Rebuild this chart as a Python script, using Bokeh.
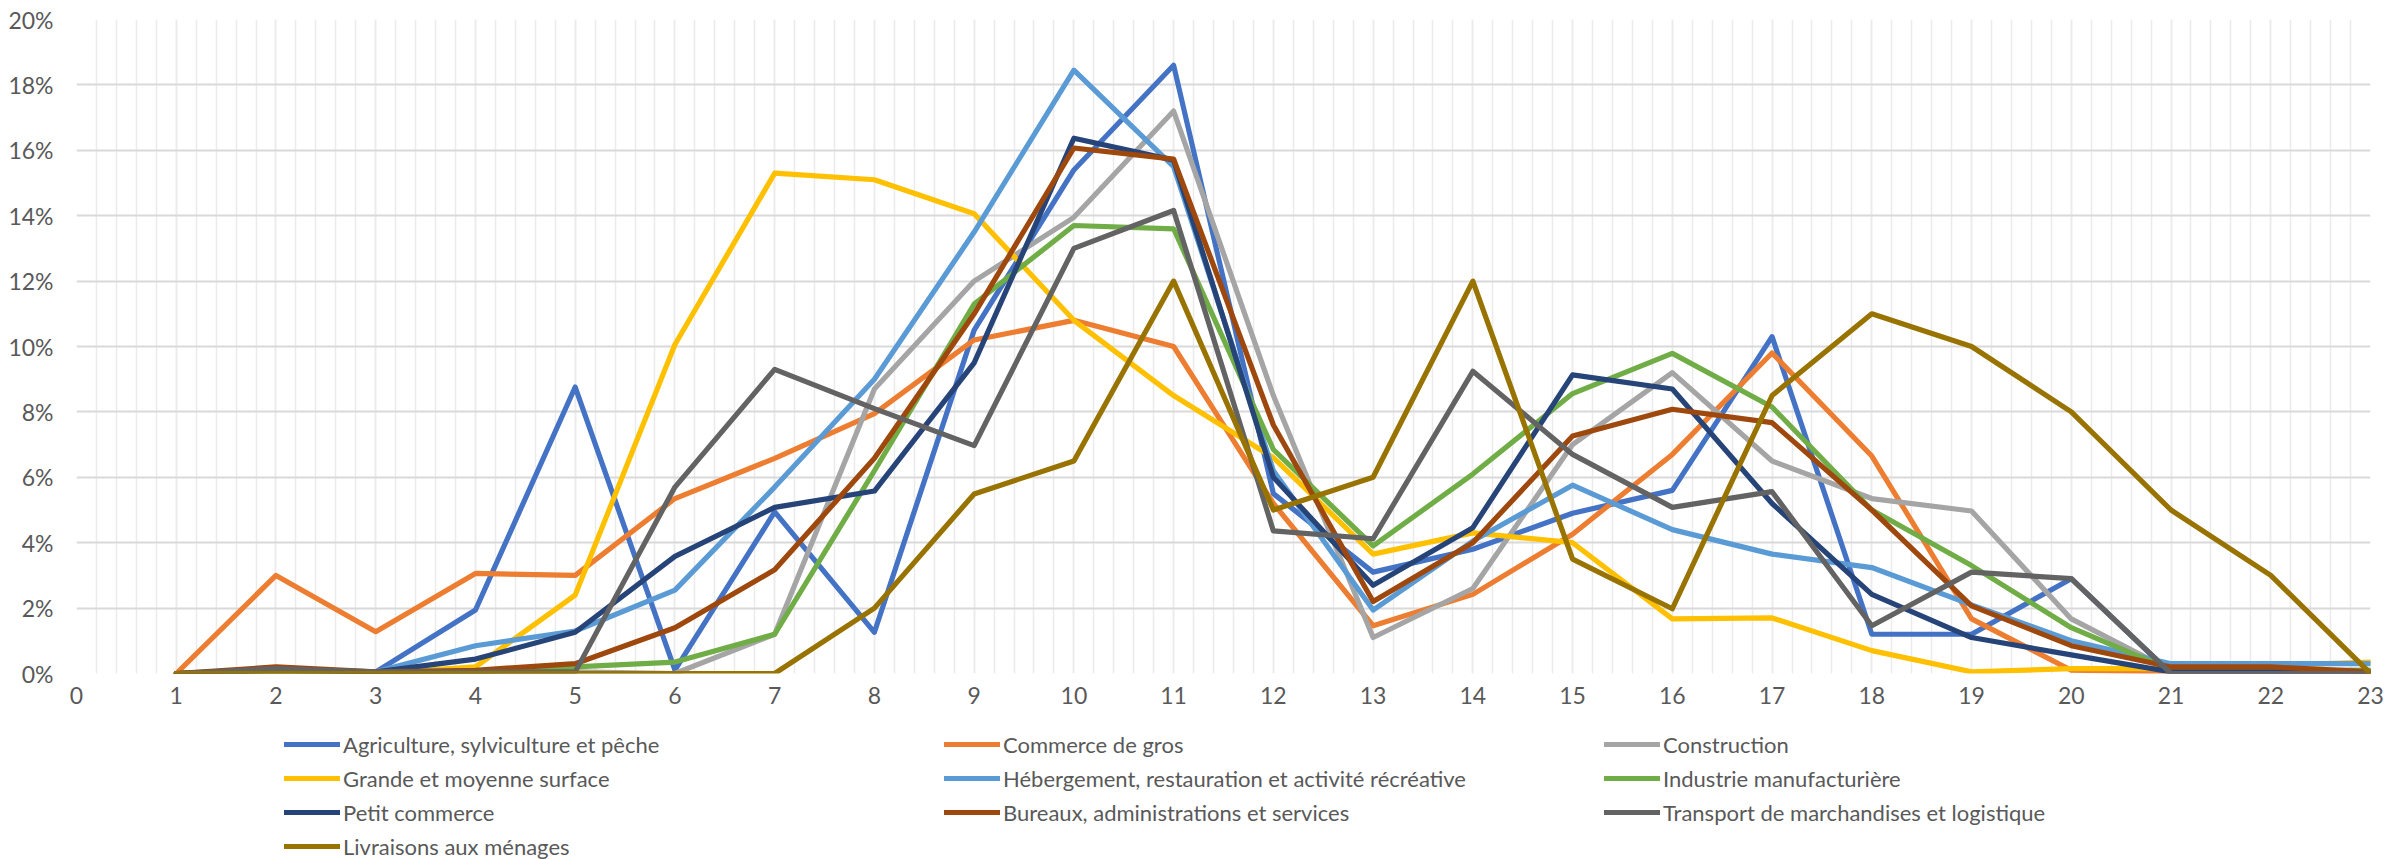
from bokeh.plotting import figure
from bokeh.layouts import column
from bokeh.models import (ColumnDataSource, Legend, LegendItem, SingleIntervalTicker,
                          FixedTicker, NumeralTickFormatter, Range1d)
from bokeh.embed import file_html
from bokeh.resources import INLINE

hours = list(range(1, 24))

names = [
    "Agriculture, sylviculture et pêche",
    "Commerce de gros",
    "Construction",
    "Grande et moyenne surface",
    "Hébergement, restauration et activité récréative",
    "Industrie manufacturière",
    "Petit commerce",
    "Bureaux, administrations et services",
    "Transport de marchandises et logistique",
    "Livraisons aux ménages",
]

agriculture = [0, 0.05, 0.05, 1.94, 8.76, 0.1, 4.94, 1.26, 10.5, 15.4, 18.6, 5.5, 3.1, 3.8, 4.9, 5.6, 10.3, 1.2, 1.2, 2.9, 0, 0, 0]
commerce_gros = [0, 3.0, 1.28, 3.06, 3.0, 5.35, 6.58, 7.95, 10.2, 10.8, 10.0, 5.2, 1.46, 2.42, 4.26, 6.7, 9.8, 6.65, 1.67, 0.1, 0.05, 0.05, 0.05]
construction = [0, 0.1, 0.05, 0.05, 0.05, 0, 1.2, 8.7, 12.0, 13.95, 17.2, 8.5, 1.1, 2.6, 7.0, 9.2, 6.5, 5.35, 4.97, 1.67, 0.1, 0.1, 0.1]
grande_surface = [0, 0, 0, 0.2, 2.4, 10.06, 15.3, 15.1, 14.06, 10.8, 8.5, 6.6, 3.65, 4.3, 4.0, 1.67, 1.7, 0.7, 0.05, 0.15, 0.15, 0.25, 0.35]
hebergement = [0, 0.05, 0.05, 0.85, 1.3, 2.55, 5.7, 9.0, 13.5, 18.45, 15.5, 6.2, 1.94, 4.05, 5.76, 4.4, 3.65, 3.24, 2.1, 1.0, 0.3, 0.3, 0.3]
industrie = [0, 0.05, 0, 0.05, 0.2, 0.35, 1.2, 6.2, 11.3, 13.7, 13.6, 6.85, 3.9, 6.1, 8.56, 9.79, 8.15, 5.0, 3.3, 1.4, 0.1, 0.1, 0.1]
petit_commerce = [0, 0.1, 0.05, 0.44, 1.26, 3.58, 5.08, 5.58, 9.5, 16.37, 15.7, 6.0, 2.7, 4.46, 9.13, 8.7, 5.2, 2.42, 1.1, 0.57, 0.05, 0.05, 0.05]
bureaux = [0, 0.2, 0.05, 0.1, 0.3, 1.4, 3.17, 6.58, 11.0, 16.07, 15.73, 7.6, 2.2, 4.0, 7.26, 8.08, 7.67, 5.0, 2.07, 0.85, 0.2, 0.2, 0.05]
transport = [0, 0.15, 0.05, 0.05, 0.05, 5.7, 9.3, 8.1, 6.97, 13.0, 14.16, 4.36, 4.12, 9.24, 6.7, 5.08, 5.56, 1.46, 3.1, 2.9, 0, 0, 0]
livraisons = [0, 0, 0, 0, 0, 0, 0, 2.0, 5.49, 6.5, 12.0, 5.0, 6.0, 12.0, 3.5, 1.98, 8.5, 11.0, 10.0, 8.0, 5.0, 3.0, 0]

series = [agriculture, commerce_gros, construction, grande_surface, hebergement,
          industrie, petit_commerce, bureaux, transport, livraisons]

colors = ["#4472C4", "#ED7D31", "#A5A5A5", "#FFC000", "#5B9BD5",
          "#70AD47", "#264478", "#9E480E", "#636363", "#997300"]

FONT = "Lato"
TXT = "#595959"
W = 2387
LW = 5.2

p = figure(width=W, height=720, output_backend="svg", toolbar_location=None,
           x_range=Range1d(0, 23), y_range=Range1d(0, 0.20),
           min_border_left=76, min_border_right=17, min_border_top=19, min_border_bottom=47)
p.outline_line_color = None
p.background_fill_color = "white"
p.border_fill_color = "white"

p.xaxis.ticker = SingleIntervalTicker(interval=1, num_minor_ticks=5)
p.yaxis.ticker = FixedTicker(ticks=[i * 0.02 for i in range(11)])
p.yaxis.formatter = NumeralTickFormatter(format="0%")
for ax in (p.xaxis, p.yaxis):
    ax.axis_line_color = None
    ax.major_tick_line_color = None
    ax.minor_tick_line_color = None
    ax.major_tick_out = 0
    ax.minor_tick_out = 0
    ax.major_tick_in = 0
    ax.minor_tick_in = 0
    ax.major_label_text_font = FONT
    ax.major_label_text_font_size = "23px"
    ax.major_label_text_color = TXT
p.yaxis.major_label_standoff = 23
p.xaxis.major_label_standoff = 13

p.ygrid.grid_line_color = "#d9d9d9"
p.ygrid.grid_line_width = 2
p.xgrid.grid_line_color = "#ebebeb"
p.xgrid.grid_line_width = 1.5
p.xgrid.minor_grid_line_color = "#ebebeb"
p.xgrid.minor_grid_line_width = 1.5

for vals, col in zip(series, colors):
    src = ColumnDataSource(dict(x=hours, y=[v / 100 for v in vals]))
    p.line("x", "y", source=src, line_color=col, line_width=LW,
           line_join="round", line_cap="round")

# legend strip below the chart (its own renderers lie outside its visible range)
lg = figure(width=W, height=139, output_backend="svg", toolbar_location=None,
            x_range=Range1d(-100, -99), y_range=Range1d(-100, -99),
            x_axis_type=None, y_axis_type=None, min_border=0)
lg.outline_line_color = None
lg.xgrid.visible = False
lg.ygrid.visible = False
items = []
for name, vals, col in zip(names, series, colors):
    src = ColumnDataSource(dict(x=hours, y=[v / 100 for v in vals]))
    r = lg.line("x", "y", source=src, line_color=col, line_width=LW, line_cap="round")
    items.append(LegendItem(label=name, renderers=[r]))

legend = Legend(items=items, ncols=3, orientation="horizontal",
                location=(208, -4), padding=0, margin=0, spacing=0,
                glyph_width=56, glyph_height=34, label_height=34,
                label_width=601, label_standoff=3,
                label_text_font=FONT, label_text_font_size="22px",
                label_text_color=TXT,
                border_line_color=None, background_fill_alpha=0)
lg.add_layout(legend, "center")

layout = column(p, lg, spacing=0)
open("out.html", "w").write(file_html(layout, INLINE))
